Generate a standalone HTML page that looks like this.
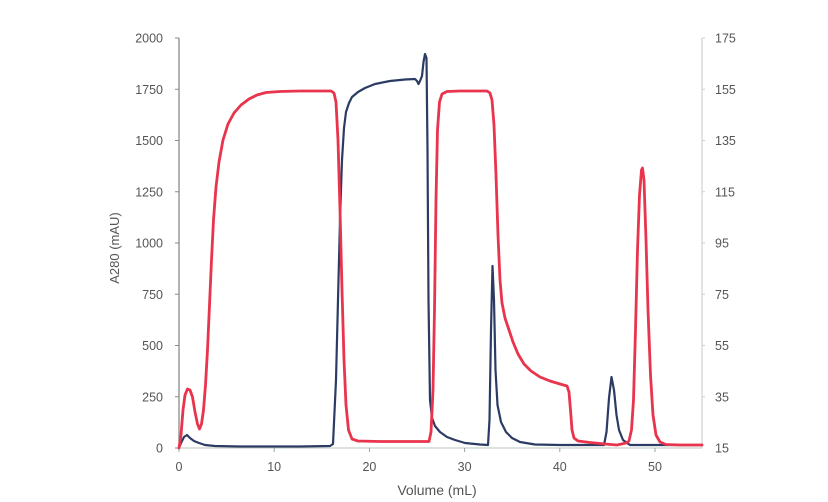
<!DOCTYPE html>
<html>
<head>
<meta charset="utf-8">
<style>
  html,body{margin:0;padding:0;background:#fff;}
  body{width:828px;height:502px;overflow:hidden;}
  svg{display:block;}
  text{font-family:"Liberation Sans",Arial,sans-serif;fill:#555;}
</style>
</head>
<body>
<svg width="828" height="502" viewBox="0 0 828 502" xmlns="http://www.w3.org/2000/svg">
  <rect width="828" height="502" fill="#fff"/>

  <!-- axes -->
  <line x1="179" y1="38" x2="179" y2="448" stroke="#8a8a8a" stroke-width="1.3"/>
  <line x1="702" y1="38" x2="702" y2="448" stroke="#d6d6d6" stroke-width="1.3"/>
  <line x1="179" y1="448" x2="702" y2="448" stroke="#c8d2c8" stroke-width="1.3"/>

  <!-- left ticks -->
  <g stroke="#8a8a8a" stroke-width="1">
    <line x1="175" y1="38" x2="179" y2="38"/>
    <line x1="175" y1="89.25" x2="179" y2="89.25"/>
    <line x1="175" y1="140.5" x2="179" y2="140.5"/>
    <line x1="175" y1="191.75" x2="179" y2="191.75"/>
    <line x1="175" y1="243" x2="179" y2="243"/>
    <line x1="175" y1="294.25" x2="179" y2="294.25"/>
    <line x1="175" y1="345.5" x2="179" y2="345.5"/>
    <line x1="175" y1="396.75" x2="179" y2="396.75"/>
    <line x1="175" y1="448" x2="179" y2="448"/>
  </g>
  <!-- right ticks -->
  <g stroke="#cfcfcf" stroke-width="1">
    <line x1="702" y1="38" x2="705" y2="38"/>
    <line x1="702" y1="89.25" x2="705" y2="89.25"/>
    <line x1="702" y1="140.5" x2="705" y2="140.5"/>
    <line x1="702" y1="191.75" x2="705" y2="191.75"/>
    <line x1="702" y1="243" x2="705" y2="243"/>
    <line x1="702" y1="294.25" x2="705" y2="294.25"/>
    <line x1="702" y1="345.5" x2="705" y2="345.5"/>
    <line x1="702" y1="396.75" x2="705" y2="396.75"/>
  </g>
  <!-- bottom ticks -->
  <g stroke="#9aa59a" stroke-width="1">
    <line x1="179" y1="448" x2="179" y2="452"/>
    <line x1="274.2" y1="448" x2="274.2" y2="452"/>
    <line x1="369.4" y1="448" x2="369.4" y2="452"/>
    <line x1="464.6" y1="448" x2="464.6" y2="452"/>
    <line x1="559.8" y1="448" x2="559.8" y2="452"/>
    <line x1="655" y1="448" x2="655" y2="452"/>
  </g>

  <!-- left tick labels -->
  <g font-size="12.5" text-anchor="end">
    <text x="163" y="42.5">2000</text>
    <text x="163" y="93.75">1750</text>
    <text x="163" y="145">1500</text>
    <text x="163" y="196.25">1250</text>
    <text x="163" y="247.5">1000</text>
    <text x="163" y="298.75">750</text>
    <text x="163" y="350">500</text>
    <text x="163" y="401.25">250</text>
    <text x="163" y="452.5">0</text>
  </g>
  <!-- right tick labels -->
  <g font-size="12.5" text-anchor="start">
    <text x="715" y="42.5">175</text>
    <text x="715" y="93.75">155</text>
    <text x="715" y="145">135</text>
    <text x="715" y="196.25">115</text>
    <text x="715" y="247.5">95</text>
    <text x="715" y="298.75">75</text>
    <text x="715" y="350">55</text>
    <text x="715" y="401.25">35</text>
    <text x="715" y="452.5">15</text>
  </g>
  <!-- bottom tick labels -->
  <g font-size="12.5" text-anchor="middle">
    <text x="179" y="471">0</text>
    <text x="274.2" y="471">10</text>
    <text x="369.4" y="471">20</text>
    <text x="464.6" y="471">30</text>
    <text x="559.8" y="471">40</text>
    <text x="655" y="471">50</text>
  </g>

  <!-- axis titles -->
  <text x="437" y="495" font-size="14" text-anchor="middle" fill="#444">Volume (mL)</text>
  <text transform="translate(119,248) rotate(-90)" font-size="13" text-anchor="middle" fill="#444">A280 (mAU)</text>

  <!-- blue series (A280) -->
  <polyline fill="none" stroke="#2b3b63" stroke-width="2.2" stroke-linejoin="round" stroke-linecap="round"
    points="179,448 181,443 184,437 187,435 190,438 194,441 199,443 205,445 215,446 240,446.5 300,446.5 330,446 333,444 336,380 338,300 340,220 342,160 344,128 346,112 349,103 352,97 358,92 365,88 375,84 390,81 405,79.5 415,79 417,81 418.5,84 420,81 422,76 423.5,62 425,54 426.5,58 427.5,150 428.5,300 430,400 432,418 435,426 440,432 447,437 455,440 465,443 480,444.5 488,445 489.5,420 491,330 492.5,266 494,300 495.5,370 497.5,405 501,422 506,432 512,438 520,442 535,444.5 560,445 604,445 606.5,432 609,398 611.5,377 614,390 616.5,415 619,430 623,440 630,445 702,445"/>

  <!-- red series (conductivity) -->
  <polyline fill="none" stroke="#e8344c" stroke-width="2.8" stroke-linejoin="round" stroke-linecap="round"
    points="179,448 181,435 183,410 185,395 187.5,389 190,390 192.5,397 195,412 197.5,424 199.5,429 201.5,424 203.5,410 205.5,385 207.5,350 209.5,305 211.5,260 213.5,220 216,187 219,162 223,140 228,124 234,113 241,105 249,99 257,95 266,92.5 280,91.5 300,91 318,91 331,91 334,93 336,102 338,140 340,210 342,290 344,360 346,405 348.5,430 352,439 358,441 380,441.5 429,441.5 431,432 433,390 434.5,310 436,200 437.5,130 439.5,102 442,94 447,91.5 460,91 487,91 490,93 492,100 494,125 496,175 498,235 500,280 502,303 505,318 509,330 513,342 518,354 524,364 531,371 540,377 550,381 560,384 567,386 569,392 570.5,410 572,430 574,438 578,441 590,442.5 605,444 617,445 626,443 629,441 631.5,430 633.5,400 635.5,330 637.5,250 639.5,195 641.5,170 642.5,168 644,180 646,240 648,310 650.5,375 653,415 656,435 660,442 666,444.5 680,445 702,445"/>
</svg>
</body>
</html>
